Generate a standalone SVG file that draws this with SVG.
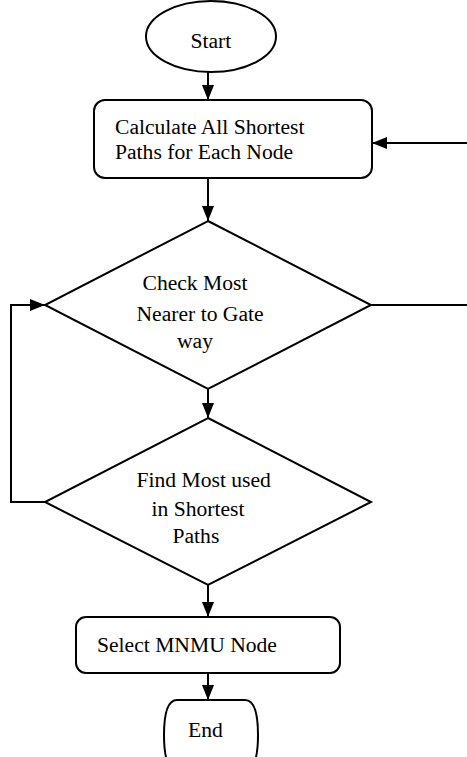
<svg xmlns="http://www.w3.org/2000/svg" width="467" height="757" viewBox="0 0 467 757">
  <style>
    .shape { fill: #ffffff; stroke: #000000; stroke-width: 2; }
    .edge { fill: none; stroke: #000000; stroke-width: 2; }
    .label { font-family: "Liberation Serif", "Times New Roman", serif; font-size: 21.6px; fill: #000000; }
  </style>
  <defs>
    <marker id="arrow" markerUnits="userSpaceOnUse" markerWidth="15" markerHeight="12" refX="15" refY="6" orient="auto">
      <path d="M0,0 L15,6 L0,12 Z" fill="#000000"/>
    </marker>
  </defs>
  <rect width="467" height="757" fill="#ffffff"/>

  <g id="connectors">
    <line class="edge" x1="208" y1="72" x2="208" y2="100" marker-end="url(#arrow)"/>
    <line class="edge" x1="208" y1="178" x2="208" y2="221" marker-end="url(#arrow)"/>
    <line class="edge" x1="208" y1="389" x2="208" y2="418" marker-end="url(#arrow)"/>
    <line class="edge" x1="208" y1="585" x2="208" y2="617" marker-end="url(#arrow)"/>
    <line class="edge" x1="208" y1="673" x2="208" y2="700" marker-end="url(#arrow)"/>
    <polyline class="edge" points="45,502 11,502 11,305 45,305" marker-end="url(#arrow)"/>
    <line class="edge" x1="371" y1="305" x2="467" y2="305"/>
    <line class="edge" x1="467" y1="143" x2="372" y2="143" marker-end="url(#arrow)"/>
  </g>

  <g id="start">
    <ellipse class="shape" cx="211" cy="36.5" rx="65" ry="35.5"/>
    <text class="label" x="190.5" y="48">Start</text>
  </g>

  <g id="calculate">
    <rect class="shape" x="94" y="100" width="278" height="78" rx="11"/>
    <text class="label" x="115" y="134">Calculate All Shortest</text>
    <text class="label" x="115" y="159">Paths for Each Node</text>
  </g>

  <g id="check">
    <polygon class="shape" points="208,221 371,305 208,389 45,305"/>
    <text class="label" x="142.5" y="290">Check Most</text>
    <text class="label" x="136.5" y="320.5">Nearer to Gate</text>
    <text class="label" x="177" y="348">way</text>
  </g>

  <g id="find">
    <polygon class="shape" points="208,418 371,502 208,585 45,502"/>
    <text class="label" x="136.5" y="487">Find Most used</text>
    <text class="label" x="151.5" y="516">in Shortest</text>
    <text class="label" x="172.5" y="543">Paths</text>
  </g>

  <g id="select">
    <rect class="shape" x="76" y="617" width="264" height="56" rx="10"/>
    <text class="label" x="97" y="652">Select MNMU Node</text>
  </g>

  <g id="end">
    <path class="shape" d="M177,700 L245,700 Q258,700 258,735 Q258,770 245,770 L177,770 Q164,770 164,735 Q164,700 177,700 Z"/>
    <text class="label" x="188" y="737">End</text>
  </g>
</svg>
